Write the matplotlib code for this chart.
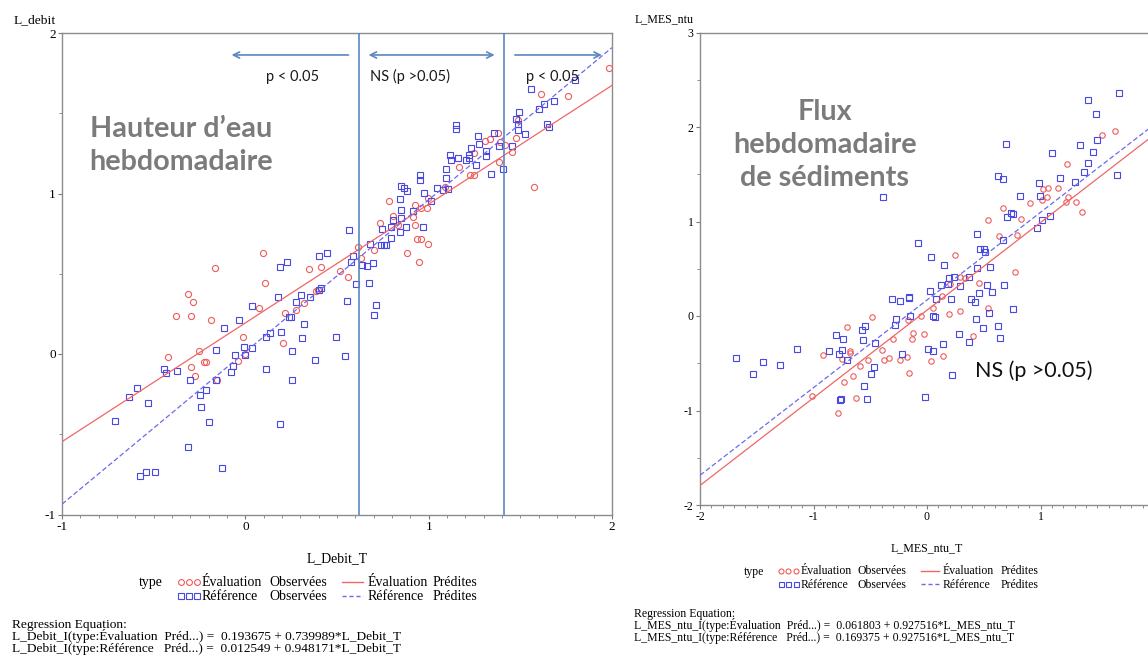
import numpy as np
import matplotlib
matplotlib.use("Agg")
import matplotlib.pyplot as plt
from matplotlib.ticker import MultipleLocator, FuncFormatter

plt.rcParams['font.family'] = ['Liberation Serif', 'DejaVu Serif']
plt.rcParams['axes.unicode_minus'] = False

# ---------------- data : left panel (L_debit vs L_Debit_T) ----------------
left_ref_obs = [
    (0.568, 0.773), (0.446, 0.631), (0.401, 0.613), (0.586, 0.613), (0.574, 0.575), (0.228, 0.575),
    (0.188, 0.542), (0.603, 0.434), (0.415, 0.411), (0.401, 0.399), (0.177, 0.353), (0.306, 0.366),
    (0.276, 0.326), (0.354, 0.353), (0.552, 0.330), (0.035, 0.301), (0.237, 0.231), (0.250, 0.231),
    (-0.035, 0.214), (-0.119, 0.160), (0.319, 0.189), (0.192, 0.137), (0.134, 0.133), (0.115, 0.104),
    (0.310, 0.102), (0.494, 0.106), (-0.005, 0.046), (0.039, 0.037), (-0.159, 0.027), (0.255, 0.021),
    (-0.056, -0.006), (-0.001, -0.004), (0.541, -0.010), (0.381, -0.035), (-0.070, -0.073), (-0.079, -0.110),
    (0.115, -0.093), (-0.446, -0.096), (-0.435, -0.118), (-0.375, -0.108), (-0.303, -0.160), (-0.159, -0.160),
    (0.255, -0.160), (-0.592, -0.210), (-0.212, -0.224), (-0.250, -0.253), (-0.632, -0.268), (-0.530, -0.307),
    (-0.243, -0.328), (-0.710, -0.420), (-0.199, -0.426), (0.188, -0.436), (-0.315, -0.577), (-0.126, -0.712),
    (-0.543, -0.735), (-0.494, -0.735), (-0.577, -0.758), (0.639, 0.555),
    (1.147, 1.429), (1.147, 1.400), (1.267, 1.360), (1.359, 1.377), (1.272, 1.310), (1.232, 1.281),
    (1.383, 1.296), (1.408, 1.153), (1.339, 1.121), (1.312, 1.263), (1.314, 1.234), (1.256, 1.178),
    (1.219, 1.240), (1.219, 1.219), (1.206, 1.207), (1.159, 1.223), (1.117, 1.240), (1.120, 1.207),
    (1.097, 1.155), (1.095, 1.097), (1.077, 1.020), (1.108, 1.026), (1.043, 1.034), (0.952, 1.115),
    (0.952, 1.084), (0.977, 1.001), (1.014, 0.953), (0.850, 1.049), (0.865, 1.032), (0.881, 1.016),
    (0.845, 0.966), (0.850, 0.897), (0.915, 0.891), (0.849, 0.849), (0.803, 0.835), (0.878, 0.789),
    (0.970, 0.791), (0.796, 0.789), (0.841, 0.760), (0.796, 0.721), (0.743, 0.777), (0.741, 0.679),
    (0.754, 0.679), (0.767, 0.679), (0.681, 0.683), (0.665, 0.550), (0.694, 0.565), (0.676, 0.440),
    (0.712, 0.303), (0.703, 0.241),
    (1.494, 1.510), (1.479, 1.462), (1.486, 1.431), (1.486, 1.396), (1.456, 1.298), (1.525, 1.369),
    (1.646, 1.431), (1.656, 1.416), (1.559, 1.649), (1.603, 1.526), (1.630, 1.558), (1.681, 1.576),
    (1.797, 1.707),
]
left_eval_obs = [
    (0.095, 0.629), (-0.166, 0.536), (0.106, 0.444), (-0.315, 0.376), (-0.288, 0.326), (-0.379, 0.237),
    (-0.297, 0.235), (-0.185, 0.214), (0.074, 0.285), (0.345, 0.528), (0.414, 0.540), (0.519, 0.517),
    (0.561, 0.482), (0.612, 0.665), (0.630, 0.598), (-0.012, 0.106), (0.219, 0.255), (0.276, 0.272),
    (0.321, 0.320), (0.383, 0.393), (0.397, 0.399), (0.203, 0.069), (-0.423, -0.017), (-0.254, 0.021),
    (-0.297, -0.079), (-0.226, -0.052), (-0.217, -0.050), (-0.272, -0.135), (-0.041, -0.044),
    (-0.154, -0.160), (0.000, 0.000),
    (0.782, 0.955), (0.733, 0.814), (0.806, 0.860), (0.832, 0.804), (0.924, 0.926), (0.912, 0.856),
    (0.956, 0.908), (0.992, 0.912), (0.996, 0.970), (0.924, 0.804), (0.934, 0.717), (0.957, 0.717),
    (0.996, 0.685), (0.881, 0.627), (0.946, 0.573), (0.703, 0.648), (1.090, 1.043), (1.165, 1.167),
    (1.247, 1.250), (1.225, 1.115), (1.247, 1.115), (1.308, 1.329), (1.337, 1.337), (1.376, 1.375),
    (1.388, 1.323), (1.419, 1.302), (1.381, 1.194),
    (1.986, 1.780), (1.614, 1.618), (1.761, 1.607), (1.486, 1.458), (1.479, 1.348), (1.457, 1.256),
    (1.575, 1.040),
]
left_eval_coef = (0.193675, 0.739989)
left_ref_coef = (0.012549, 0.948171)
left_thresholds = [0.62, 1.41]
left_xlim = (-1, 2)
left_ylim = (-1, 2)

# ---------------- data : right panel (L_MES_ntu vs L_MES_ntu_T) ----------------
right_ref_obs = [
    (-0.391, 1.263), (-0.076, 0.769), (0.032, 0.621), (0.029, 0.265), (-0.305, 0.176), (-0.241, 0.155),
    (-0.162, 0.205), (-0.162, 0.190), (-0.150, 0.004), (-0.276, -0.035), (-0.279, -0.092), (-0.546, -0.106),
    (-0.573, -0.148), (-0.805, -0.201), (-0.740, -0.243), (-0.567, -0.250), (-0.455, -0.286), (-1.148, -0.353),
    (-0.863, -0.367), (-0.778, -0.406), (-0.746, -0.363), (-0.708, -0.466), (-1.683, -0.444), (-1.442, -0.490),
    (-1.292, -0.522), (-1.533, -0.610), (-0.220, -0.406), (-0.467, -0.540), (-0.493, -0.617), (-0.558, -0.744),
    (-0.529, -0.875), (-0.755, -0.878), (-0.764, -0.889), (-0.018, -0.854), (0.012, -0.346), (0.053, -0.367),
    (0.220, -0.625),
    (1.692, 2.363), (1.421, 2.286), (1.486, 2.138), (0.699, 1.820), (1.098, 1.721), (1.351, 1.806),
    (1.495, 1.862), (1.466, 1.739), (1.418, 1.616), (1.380, 1.524), (1.304, 1.422), (1.671, 1.492),
    (1.172, 1.464), (0.628, 1.481), (0.670, 1.446), (0.984, 1.404), (0.999, 1.273), (0.819, 1.266),
    (1.084, 1.058), (1.013, 1.016), (0.972, 0.935), (0.743, 1.086), (0.755, 1.079), (0.702, 1.051),
    (0.667, 0.804), (0.443, 0.868), (0.150, 0.540), (0.467, 0.713), (0.505, 0.713), (0.511, 0.681),
    (0.438, 0.511), (0.558, 0.519), (0.197, 0.399), (0.238, 0.409), (0.370, 0.416), (0.288, 0.314),
    (0.126, 0.328), (0.182, 0.339), (0.076, 0.176), (0.211, 0.180), (0.388, 0.176), (0.423, 0.152),
    (0.526, 0.328), (0.681, 0.328), (0.458, 0.240), (0.570, 0.257), (0.549, 0.028), (0.761, 0.074),
    (0.050, 0.000), (0.070, -0.014), (0.429, -0.035), (0.279, -0.190), (0.370, -0.272), (0.490, -0.123),
    (0.628, -0.106), (0.643, -0.229), (0.144, -0.300),
]
right_eval_obs = [
    (-0.488, -0.007), (-0.708, -0.116), (-0.300, -0.243), (-0.396, -0.363), (-0.919, -0.409), (-0.752, -0.455),
    (-0.678, -0.370), (-0.678, -0.395), (-0.523, -0.462), (-0.379, -0.466), (-0.338, -0.448), (-0.238, -0.469),
    (-0.173, -0.434), (-0.593, -0.526), (-0.731, -0.702), (-0.652, -0.631), (-0.159, -0.600), (-0.623, -0.871),
    (-0.781, -1.023), (-1.013, -0.843), (-0.167, -0.042), (-0.120, -0.176), (-0.132, -0.240), (-0.050, 0.000),
    (-0.029, -0.190), (0.038, -0.473), (0.137, -0.425),
    (1.653, 1.958), (1.545, 1.915), (1.236, 1.605), (1.022, 1.344), (1.063, 1.354), (1.060, 1.263),
    (1.013, 1.224), (1.157, 1.351), (0.907, 1.199), (1.245, 1.263), (1.225, 1.210), (1.310, 1.210),
    (1.366, 1.101), (0.670, 1.139), (0.825, 1.023), (0.535, 1.016), (0.637, 0.843), (0.796, 0.854),
    (0.250, 0.642), (0.775, 0.469), (0.291, 0.416), (0.335, 0.399), (0.203, 0.339), (0.461, 0.346),
    (0.135, 0.215), (0.056, 0.088), (0.540, 0.088), (0.294, 0.056), (0.191, 0.021), (0.402, -0.212),
]
right_eval_coef = (0.061803, 0.927516)
right_ref_coef = (0.169375, 0.927516)
right_xlim = (-2, 2)
right_ylim = (-2, 3)

# ---------------- style ----------------
RED = '#ee5c5c'
BLUE = '#4848e2'
RED_LINE = '#f06666'
BLUE_LINE = '#6a6aee'
ANNOT = '#5b86bf'
GREY_TITLE = '#7b7b7b'
SANS = ['Lato', 'DejaVu Sans']

W, H = 1148, 656
fig = plt.figure(figsize=(W / 100, H / 100), dpi=100)


def px_axes(left, top, right, bottom):
    return [left / W, 1 - bottom / H, (right - left) / W, (bottom - top) / H]


def style_axes(ax, xlim, ylim, labelsize, hidden_x=()):
    ax.set_xlim(xlim)
    ax.set_ylim(ylim)
    ax.xaxis.set_major_locator(MultipleLocator(1))
    ax.xaxis.set_minor_locator(MultipleLocator(0.1))
    ax.yaxis.set_major_locator(MultipleLocator(1))
    ax.yaxis.set_minor_locator(MultipleLocator(0.5))
    ax.xaxis.set_major_formatter(FuncFormatter(
        lambda v, p: '' if round(v) in hidden_x else '%g' % v))
    ax.yaxis.set_major_formatter(FuncFormatter(lambda v, p: '%g' % v))
    ax.tick_params(which='both', direction='out', color='#7a7a7a', labelsize=labelsize)
    ax.tick_params(which='major', length=3, width=0.8, pad=1.5)
    ax.tick_params(which='minor', length=2.2, width=0.6)
    for s in ax.spines.values():
        s.set_color('#8c8c8c')
        s.set_linewidth(1.0)


def draw_panel(ax, eval_pts, ref_pts, eval_coef, ref_coef, xlim, ms):
    ex, ey = zip(*eval_pts)
    rx, ry = zip(*ref_pts)
    ax.plot(ex, ey, 'o', mfc='none', mec=RED, ms=ms, mew=0.8, zorder=3)
    ax.plot(rx, ry, 's', mfc='none', mec=BLUE, ms=ms * 0.95, mew=0.8, zorder=3)
    xs = np.linspace(xlim[0], xlim[1], 50)
    ax.plot(xs, eval_coef[0] + eval_coef[1] * xs, '-', color=RED_LINE, lw=0.9, zorder=4)
    ax.plot(xs, ref_coef[0] + ref_coef[1] * xs, color=BLUE_LINE, lw=0.9,
            linestyle=(0, (4, 2)), zorder=4)


# ---------------- left panel ----------------
axL = fig.add_axes(px_axes(62, 33, 612, 514.5))
style_axes(axL, left_xlim, left_ylim, 9.5)
draw_panel(axL, left_eval_obs, left_ref_obs, left_eval_coef, left_ref_coef, left_xlim, 4.4)
for xv in left_thresholds:
    axL.axvline(xv, color=ANNOT, lw=1.2, zorder=5)
arrow_y = 1.863
axL.annotate('', xy=(-0.09, arrow_y), xytext=(0.578, arrow_y),
             arrowprops=dict(arrowstyle='->', color=ANNOT, lw=1.2, mutation_scale=11), zorder=6)
axL.annotate('', xy=(0.657, arrow_y), xytext=(1.375, arrow_y),
             arrowprops=dict(arrowstyle='<->', color=ANNOT, lw=1.2, mutation_scale=11), zorder=6)
axL.annotate('', xy=(1.96, arrow_y), xytext=(1.455, arrow_y),
             arrowprops=dict(arrowstyle='->', color=ANNOT, lw=1.2, mutation_scale=11), zorder=6)
for cx, txt in [(0.258, 'p < 0.05'), (0.90, 'NS (p >0.05)'), (1.677, 'p < 0.05')]:
    axL.text(cx, 1.728, txt, ha='center', va='center', fontsize=10.5, family=SANS,
             color='#1a1a1a', zorder=7)
axL.text(-0.352, 1.30, "Hauteur d\u2019eau\nhebdomadaire", ha='center', va='center',
         fontsize=20.7, family=SANS, fontweight='bold', color=GREY_TITLE, linespacing=1.3)

# ---------------- right panel ----------------
axR = fig.add_axes(px_axes(700, 32.5, 1154, 505))
style_axes(axR, right_xlim, right_ylim, 8.5, hidden_x=(2,))
draw_panel(axR, right_eval_obs, right_ref_obs, right_eval_coef, right_ref_coef, right_xlim, 3.9)
axR.text(-0.9, 1.81, "Flux\nhebdomadaire\nde s\u00e9diments", ha='center', va='center',
         fontsize=20.7, family=SANS, fontweight='bold', color=GREY_TITLE, linespacing=1.32)
axR.text(0.94, -0.58, "NS (p >0.05)", ha='center', va='center', fontsize=15.5, family=SANS,
         color='#111111')

# ---------------- overlay: axis names, legends, equations ----------------
ov = fig.add_axes([0, 0, 1, 1], zorder=10)
ov.set_xlim(0, W)
ov.set_ylim(H, 0)
ov.axis('off')
ov.patch.set_alpha(0)

# axis names
ov.text(56, 23, 'L_debit', ha='right', va='baseline', fontsize=9.7)
ov.text(694, 22, 'L_MES_ntu', ha='right', va='baseline', fontsize=8.6)
ov.text(337, 562, 'L_Debit_T', ha='center', va='baseline', fontsize=9.9)
ov.text(927, 551, 'L_MES_ntu_T', ha='center', va='baseline', fontsize=8.6)


def legend(x_type, mk_x, col_x, line_x, rows_y, fs, ms):
    ov.text(x_type, rows_y[0], 'type', ha='left', va='baseline', fontsize=fs)
    off = fs * 100 / 72 * 0.30
    ov.plot(mk_x, [rows_y[0] - off] * 3, 'o', mfc='none', mec=RED, ms=ms, mew=0.8)
    ov.plot(mk_x, [rows_y[1] - off] * 3, 's', mfc='none', mec=BLUE, ms=ms, mew=0.8)
    ov.plot(line_x, [rows_y[0] - off] * 2, '-', color=RED_LINE, lw=1.0)
    ov.plot(line_x, [rows_y[1] - off] * 2, color=BLUE_LINE, lw=1.0, linestyle=(0, (3, 2)))
    labels = [('\u00c9valuation', 'Observ\u00e9es', '\u00c9valuation', 'Pr\u00e9dites'),
              ('R\u00e9f\u00e9rence', 'Observ\u00e9es', 'R\u00e9f\u00e9rence', 'Pr\u00e9dites')]
    for row, y in zip(labels, rows_y):
        for cx, t in zip(col_x, row):
            ov.text(cx, y, t, ha='left', va='baseline', fontsize=fs)


legend(139, [180.5, 188.5, 196.5], [202, 269, 368, 433], [342, 363], [586, 600], 10.0, 4.2)
legend(744, [780.5, 788, 795.5], [801, 858, 943, 1001], [921, 939], [574.5, 588], 8.5, 3.6)

eq_left = ['Regression Equation:',
           'L_Debit_I(type:\u00c9valuation  Pr\u00e9d...) =  0.193675 + 0.739989*L_Debit_T',
           'L_Debit_I(type:R\u00e9f\u00e9rence   Pr\u00e9d...) =  0.012549 + 0.948171*L_Debit_T']
eq_right = ['Regression Equation:',
            'L_MES_ntu_I(type:\u00c9valuation  Pr\u00e9d...) =  0.061803 + 0.927516*L_MES_ntu_T',
            'L_MES_ntu_I(type:R\u00e9f\u00e9rence   Pr\u00e9d...) =  0.169375 + 0.927516*L_MES_ntu_T']
for t, y in zip(eq_left, [628, 640, 652]):
    ov.text(12, y, t, ha='left', va='baseline', fontsize=9.6)
for t, y in zip(eq_right, [617, 629, 641]):
    ov.text(634, y, t, ha='left', va='baseline', fontsize=8.5)

fig.savefig('out.png', dpi=100)
